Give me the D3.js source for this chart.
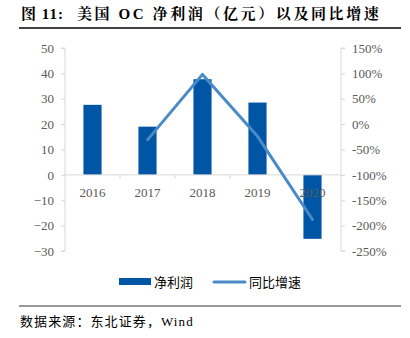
<!DOCTYPE html>
<html><head><meta charset="utf-8">
<script src="https://cdn.jsdelivr.net/npm/d3@7"></script>
<style>body{margin:0;background:#fff;} svg{display:block;}</style>
</head><body>
<svg id="c" width="410" height="338"></svg>
<script>
const categories = ["2016","2017","2018","2019","2020"];
const netProfit = [27.6, 19.0, 37.7, 28.5, -25.2];
const growth = [null, -31, 98, -24, -188];
const leftTicks = [50,40,30,20,10,0,-10,-20,-30];
const rightTicks = [150,100,50,0,-50,-100,-150,-200,-250];

const svg = d3.select("#c");
const serif = "'Liberation Serif','Times New Roman',serif";
const cjk = "'Noto Sans CJK SC','Liberation Serif',serif";
const L = 65, R = 340, T = 48, B = 251;

// title
const title = svg.append("text").attr("x",21).attr("y",19).attr("font-family","'Liberation Serif','Noto Serif CJK SC','Noto Sans CJK SC',serif")
  .attr("font-size",15).attr("font-weight","bold").attr("fill","#000");
title.append("tspan").attr("letter-spacing",1).text("图 11:");
title.append("tspan").attr("x",77).attr("letter-spacing",2.6).text("美国 OC 净利润（亿元）以及同比增速");
svg.append("line").attr("x1",19).attr("x2",401).attr("y1",28).attr("y2",28).attr("stroke","#000").attr("stroke-width",1.5);

const x = d3.scaleBand().domain(categories).range([L,R]).paddingInner(0.67).paddingOuter(0.335);
const xb = d3.scaleBand().domain(categories).range([L,R]);
const y = d3.scaleLinear().domain([-30,50]).range([B,T]);
const y2 = d3.scaleLinear().domain([-250,150]).range([B,T]);

const axisColor = "#d9d9d9", textColor = "#595959";

// left axis
const la = svg.append("g").attr("transform",`translate(${L},0)`)
  .call(d3.axisLeft(y).tickValues(leftTicks).tickSize(4).tickPadding(7).tickFormat(d3.format("d")));
la.select(".domain").attr("stroke",axisColor).attr("d",`M-4,${T}H0V${B}H-4`);
la.selectAll(".tick line").attr("stroke",axisColor);
la.selectAll("text").attr("font-family",serif).attr("font-size",13).attr("fill",textColor);

// right axis
const ra = svg.append("g").attr("transform",`translate(${R+1},0)`)
  .call(d3.axisRight(y2).tickValues(rightTicks).tickSize(4).tickPadding(7).tickFormat(d=>d+"%"));
ra.select(".domain").attr("stroke",axisColor).attr("d",`M4,${T}H0V${B}H4`);
ra.selectAll(".tick line").attr("stroke",axisColor);
ra.selectAll("text").attr("font-family",serif).attr("font-size",13).attr("fill",textColor);

// bars
svg.append("g").selectAll("rect").data(netProfit).join("rect")
  .attr("x",(d,i)=>x(categories[i])).attr("width",x.bandwidth())
  .attr("y",d=>y(Math.max(0,d))).attr("height",d=>Math.abs(y(d)-y(0)))
  .attr("fill","#0055a5");

// x axis at 0
const xa = svg.append("g").attr("transform",`translate(0,${y(0)})`)
  .call(d3.axisBottom(xb).tickSize(0).tickPadding(13));
xa.select(".domain").attr("stroke",axisColor).attr("d",`M${L},0H${R+1}`);
xa.selectAll("text").attr("font-family",serif).attr("font-size",13).attr("fill",textColor);
svg.append("g").selectAll("line").data(categories.slice(1)).join("line")
  .attr("x1",d=>xb(d)).attr("x2",d=>xb(d)).attr("y1",y(0)).attr("y2",y(0)+4).attr("stroke",axisColor);

// line
const pts = growth.map((g,i)=>({c:categories[i],g})).filter(d=>d.g!==null);
svg.append("path").datum(pts)
  .attr("d",d3.line().x(d=>xb(d.c)+xb.bandwidth()/2).y(d=>y2(d.g)))
  .attr("fill","none").attr("stroke","#4a8ac9").attr("stroke-width",3).attr("stroke-linecap","round").attr("stroke-linejoin","round");

// legend
svg.append("rect").attr("x",119).attr("y",278).attr("width",32).attr("height",7).attr("fill","#0055a5");
svg.append("text").attr("x",154).attr("y",287).attr("font-family",cjk).attr("font-size",13).attr("fill","#000").text("净利润");
svg.append("line").attr("x1",214).attr("x2",245).attr("y1",282).attr("y2",282).attr("stroke","#4a8ac9").attr("stroke-width",3).attr("stroke-linecap","round");
svg.append("text").attr("x",249).attr("y",287).attr("font-family",cjk).attr("font-size",13).attr("fill","#000").text("同比增速");

// source
svg.append("line").attr("x1",19).attr("x2",401).attr("y1",306).attr("y2",306).attr("stroke","#999").attr("stroke-width",2);
svg.append("text").attr("x",20).attr("y",326).attr("font-family","'Liberation Serif','Noto Sans CJK SC',serif").attr("font-size",13).attr("fill","#000").attr("letter-spacing",1.1).text("数据来源：东北证券，Wind");
</script>
</body></html>
